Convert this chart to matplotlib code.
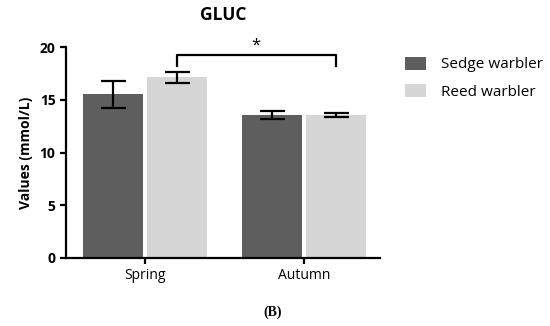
import matplotlib
matplotlib.use("Agg")
import matplotlib.pyplot as plt
import numpy as np

plt.rcParams['font.family'] = ['Open Sans', 'DejaVu Sans']

seasons = ["Spring", "Autumn"]
species = ["Sedge warbler", "Reed warbler"]
means = {"Sedge warbler": [15.55, 13.53], "Reed warbler": [17.15, 13.57]}
errors = {"Sedge warbler": [1.28, 0.38], "Reed warbler": [0.5, 0.22]}
colors = {"Sedge warbler": "#5e5e5e", "Reed warbler": "#d6d6d6"}

fig = plt.figure(figsize=(5.5, 3.26), dpi=100)
ax = fig.add_axes([0.12, 0.2086, 0.571, 0.6463])

x = np.arange(len(seasons))
width = 0.377
offsets = [-0.2, 0.2]
for sp, off in zip(species, offsets):
    ax.bar(x + off, means[sp], width, color=colors[sp], label=sp, zorder=2)
    ax.errorbar(x + off, means[sp], yerr=errors[sp], fmt="none", ecolor="black",
                elinewidth=1.6, capsize=9, capthick=1.6, zorder=3)

# significance bracket between Reed warbler spring and autumn
bx = [x[0] + offsets[1], x[1] + offsets[1]]
ax.plot([bx[0], bx[0], bx[1], bx[1]], [18.2, 19.3, 19.3, 18.2], color="black", lw=1.6,
        clip_on=False)
ax.text(np.mean(bx), 19.4, "*", ha="center", va="bottom", fontsize=12)

ax.set_xlim(-0.497, 1.478)
ax.set_ylim(0, 20)
ax.set_xticks(x)
ax.set_xticklabels(seasons, fontsize=10)
ax.set_yticks([0, 5, 10, 15, 20])
for lab in ax.get_yticklabels():
    lab.set_fontweight("bold")
    lab.set_fontsize(10)
ax.set_ylabel("Values (mmol/L)", fontsize=10, fontweight="bold", labelpad=5)
ax.set_title("GLUC", fontsize=12.5, fontweight="bold", pad=20)

for s in ["top", "right"]:
    ax.spines[s].set_visible(False)
for s in ["left", "bottom"]:
    ax.spines[s].set_linewidth(1.6)
ax.tick_params(width=1.6, length=4)

ax.legend(loc="upper left", bbox_to_anchor=(1.035, 1.02), frameon=False, fontsize=11,
          handlelength=1.4, handleheight=0.9, handletextpad=1.0, labelspacing=0.75)

fig.text(0.495, 0.032, "(B)", ha="center", fontsize=10, family="Liberation Serif",
         fontweight="bold")

fig.savefig("out.png", dpi=100)
